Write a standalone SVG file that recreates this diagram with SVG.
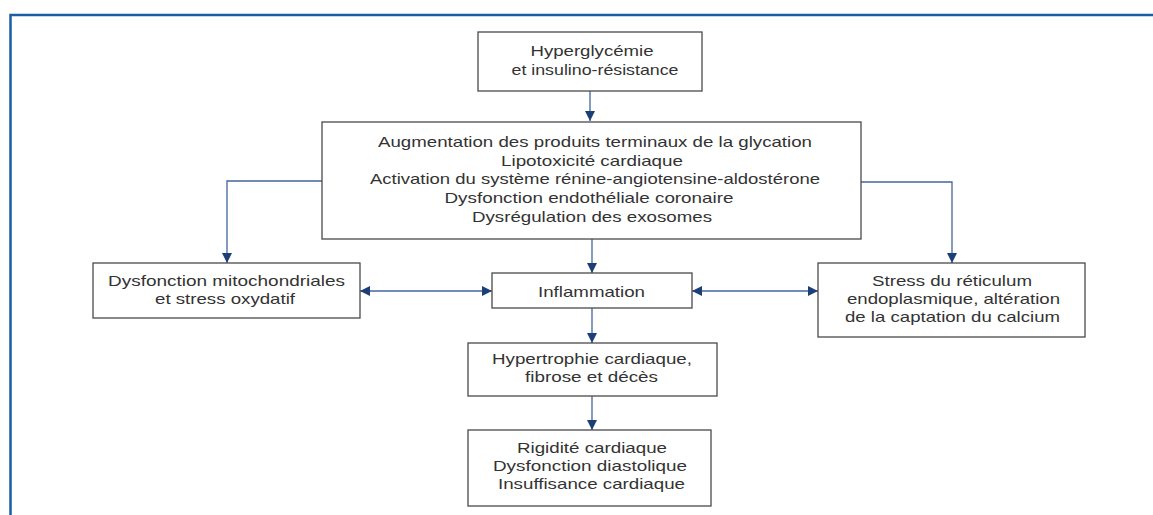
<svg xmlns="http://www.w3.org/2000/svg" width="1153" height="515" viewBox="0 0 1153 515">
<style>
.box{fill:#fff;stroke:#4a4a4a;stroke-width:1.3}
.t{font-family:"Liberation Sans",Arial,sans-serif;font-size:15px;fill:#333;text-anchor:middle}
.c{fill:none;stroke:#44669c;stroke-width:1.3}
</style>
<defs>
<marker id="ah" viewBox="0 0 10 10" refX="10" refY="5" markerWidth="10" markerHeight="10" markerUnits="userSpaceOnUse" orient="auto-start-reverse">
<path d="M0,0 L10,5 L0,10 Z" fill="#1d3f78"/>
</marker>
</defs>
<rect width="1153" height="515" fill="#fff"/>
<path d="M10.5,515 V15 H1153" fill="none" stroke="#1a5ea6" stroke-width="2.5"/>
<g id="connectors">
<path class="c" d="M590,91 V121" marker-end="url(#ah)"/>
<path class="c" d="M322,181 H227 V263" marker-end="url(#ah)"/>
<path class="c" d="M861,182 H952 V263" marker-end="url(#ah)"/>
<path class="c" d="M592,239 V273" marker-end="url(#ah)"/>
<path class="c" d="M360,291 H492" marker-start="url(#ah)" marker-end="url(#ah)"/>
<path class="c" d="M692,291 H818" marker-start="url(#ah)" marker-end="url(#ah)"/>
<path class="c" d="M592,308 V343" marker-end="url(#ah)"/>
<path class="c" d="M592,396 V430" marker-end="url(#ah)"/>
</g>
<g id="n1">
<rect class="box" x="478" y="32" width="224" height="59"/>
<text class="t" x="592" y="56" textLength="123" lengthAdjust="spacingAndGlyphs">Hyperglycémie</text>
<text class="t" x="595" y="75" textLength="167" lengthAdjust="spacingAndGlyphs">et insulino-résistance</text>
</g>
<g id="n2">
<rect class="box" x="322" y="122" width="539" height="117"/>
<text class="t" x="595" y="147" textLength="434" lengthAdjust="spacingAndGlyphs">Augmentation des produits terminaux de la glycation</text>
<text class="t" x="592" y="165.5" textLength="182" lengthAdjust="spacingAndGlyphs">Lipotoxicité cardiaque</text>
<text class="t" x="595" y="184" textLength="450" lengthAdjust="spacingAndGlyphs">Activation du système rénine-angiotensine-aldostérone</text>
<text class="t" x="589" y="203" textLength="289" lengthAdjust="spacingAndGlyphs">Dysfonction endothéliale coronaire</text>
<text class="t" x="592" y="221.5" textLength="240" lengthAdjust="spacingAndGlyphs">Dysrégulation des exosomes</text>
</g>
<g id="n3">
<rect class="box" x="93" y="263" width="267" height="55"/>
<text class="t" x="226.5" y="286" textLength="237" lengthAdjust="spacingAndGlyphs">Dysfonction mitochondriales</text>
<text class="t" x="225" y="304" textLength="140" lengthAdjust="spacingAndGlyphs">et stress oxydatif</text>
</g>
<g id="n4">
<rect class="box" x="492" y="273" width="200" height="35"/>
<text class="t" x="591.5" y="297" textLength="107" lengthAdjust="spacingAndGlyphs">Inflammation</text>
</g>
<g id="n5">
<rect class="box" x="818" y="263" width="267" height="74"/>
<text class="t" x="952" y="286" textLength="160" lengthAdjust="spacingAndGlyphs">Stress du réticulum</text>
<text class="t" x="953.5" y="304" textLength="213" lengthAdjust="spacingAndGlyphs">endoplasmique, altération</text>
<text class="t" x="952.5" y="322" textLength="215" lengthAdjust="spacingAndGlyphs">de la captation du calcium</text>
</g>
<g id="n6">
<rect class="box" x="468" y="343" width="249" height="53"/>
<text class="t" x="592" y="364" textLength="200" lengthAdjust="spacingAndGlyphs">Hypertrophie cardiaque,</text>
<text class="t" x="591.5" y="382" textLength="133" lengthAdjust="spacingAndGlyphs">fibrose et décès</text>
</g>
<g id="n7">
<rect class="box" x="468" y="430" width="243" height="76"/>
<text class="t" x="592" y="453" textLength="150" lengthAdjust="spacingAndGlyphs">Rigidité cardiaque</text>
<text class="t" x="590" y="471" textLength="194" lengthAdjust="spacingAndGlyphs">Dysfonction diastolique</text>
<text class="t" x="591.5" y="489" textLength="187" lengthAdjust="spacingAndGlyphs">Insuffisance cardiaque</text>
</g>
</svg>
